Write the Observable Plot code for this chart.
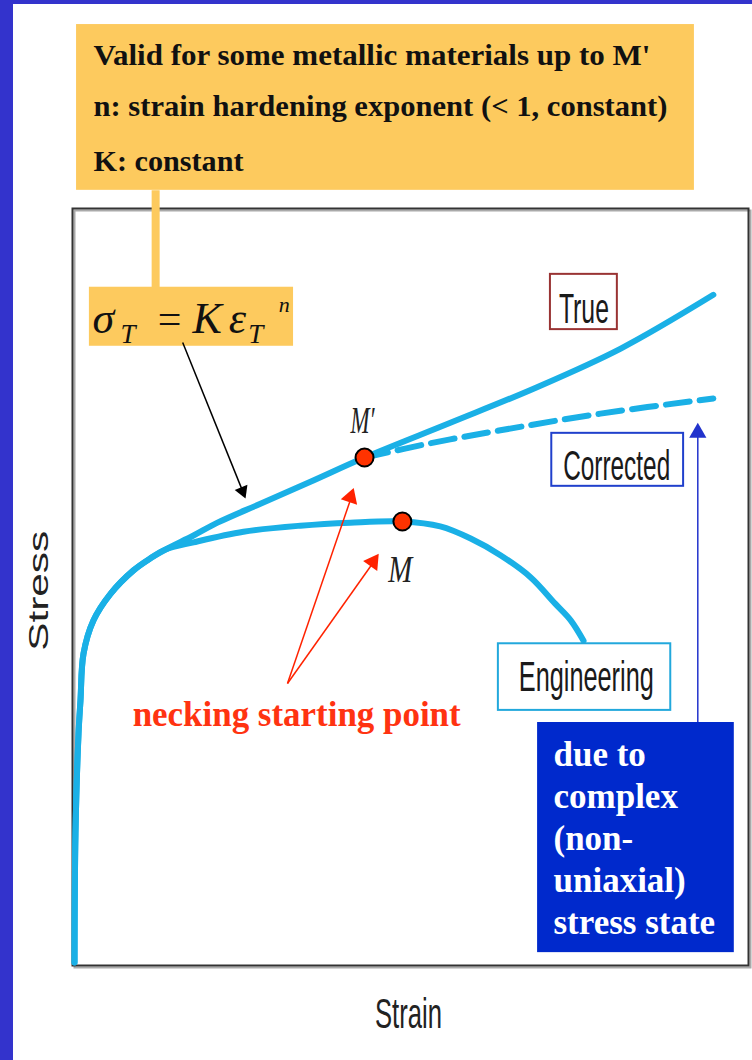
<!DOCTYPE html>
<html><head><meta charset="utf-8">
<script src="https://cdn.jsdelivr.net/npm/d3@7"></script>
<script src="https://cdn.jsdelivr.net/npm/@observablehq/plot@0.6"></script>
<style>
html,body{margin:0;padding:0;background:#fff;overflow:hidden;}
#wrap{position:relative;width:752px;height:1060px;}
#wrap svg{position:absolute;left:0;top:0;}
.strip{position:absolute;background:#3333cc;z-index:5;}
</style></head><body>
<div id="wrap">
  <div class="strip" style="left:0;top:0;width:13px;height:1060px"></div>
  <div class="strip" style="left:0;top:0;width:752px;height:4px"></div>
</div>
<script>
// ---- Data (strain and stress in arbitrary units, 0-100) ----
// elastic + early plastic part shared by all curves
const commonStrain = [0.3, 0.44, 0.89, 1.18, 1.63, 3.11, 5.62, 9.02, 11.54, 13.76];
const commonStress = [0.4, 17.4, 30.6, 35.0, 41.2, 45.6, 49.1, 52.2, 53.8, 54.95];
// true stress-strain branch
const trueStrain = [17.9, 21.45, 27.8, 35.2, 43.2, 55.9, 68.2, 81.1, 94.8];
const trueStress = [56.8, 58.5, 61.0, 63.9, 67.1, 71.7, 76.2, 81.5, 88.6];
// engineering branch
const engStrain = [17.9, 25.3, 33.7, 41.1, 48.8, 54.4, 58.9, 63.3, 67.75, 71.4, 73.7, 75.6];
const engStress = [55.9, 57.3, 58.1, 58.5, 58.65, 58.0, 56.4, 54.2, 51.3, 47.8, 45.6, 42.9];
// corrected branch (after necking)
const corrStrain = [43.2, 53.0, 63.3, 78.1, 94.8];
const corrStress = [67.1, 69.0, 70.7, 72.9, 74.9];
// necking points
const neckNames = ["M′", "M"];
const neckStrain = [43.2, 48.8];
const neckStress = [67.1, 58.65];
// texts
const noteLines = ["Valid for some metallic materials up to M'", "n: strain hardening exponent (< 1, constant)", "K: constant"];
const seriesNames = ["True", "Corrected", "Engineering"];
const causeText = "due to\ncomplex\n(non-\nuniaxial)\nstress state";
const neckText = "necking starting point";

// ---- build tables ----
const pts = (xs, ys) => xs.map((x, i) => ({x, y: ys[i]}));
const common = pts(commonStrain, commonStress);
const trueCurve = common.concat(pts(trueStrain, trueStress));
const engCurve = common.concat(pts(engStrain, engStress));
const corrCurve = pts(corrStrain, corrStress);
const necks = neckNames.map((n, i) => ({n, x: neckStrain[i], y: neckStress[i]}));

const BLUE = "#1ab0e6", ORANGE = "#fdca5e", RED = "#ff3300";
const serif = "'Liberation Serif','Times New Roman',serif";
const sans = "'Liberation Sans',Arial,sans-serif";

const T = (text, x, y, o) => Plot.text([{text, x, y}], {x: "x", y: "y", text: "text", ...o});
const box = (x1, x2, y1, y2, o) => Plot.rect([{x1, x2, y1, y2}], {x1: "x1", x2: "x2", y1: "y1", y2: "y2", ...o});
const seg = (x1, y1, x2, y2, o) => Plot.link([{x1, y1, x2, y2}], {x1: "x1", y1: "y1", x2: "x2", y2: "y2", ...o});
const head = (x, y, o) => Plot.dot([{x, y}], {x: "x", y: "y", symbol: "triangle", stroke: null, ...o});

const chart = Plot.plot({
  width: 752, height: 1060,
  marginLeft: 72, marginRight: 4, marginTop: 208, marginBottom: 95,
  x: {domain: [0, 100], axis: null},
  y: {domain: [0, 100], axis: null},
  style: {background: "transparent", overflow: "visible"},
  marks: [
    Plot.frame({stroke: "#aaa", strokeWidth: 2, dx: 2, dy: 2}),
    Plot.frame({stroke: "#333", strokeWidth: 2}),
    // note box
    box(0.6, 92.0, 102.4, 124.3, {fill: ORANGE}),
    seg(12.3, 89.6, 12.3, 102.4, {stroke: ORANGE, strokeWidth: 8}),
    box(2.5, 32.7, 81.8, 89.6, {fill: ORANGE}),
    T(noteLines[0], 3.1, 119.0, {textAnchor: "start", lineAnchor: "bottom", fontFamily: serif, fontWeight: "bold", fontSize: 30, fill: "#111"}),
    T(noteLines[1], 3.1, 112.2, {textAnchor: "start", lineAnchor: "bottom", fontFamily: serif, fontWeight: "bold", fontSize: 30, fill: "#111"}),
    T(noteLines[2], 3.1, 104.9, {textAnchor: "start", lineAnchor: "bottom", fontFamily: serif, fontWeight: "bold", fontSize: 30, fill: "#111"}),
    // formula sigma_T = K eps_T ^ n
    T("σ", 2.96, 83.5, {textAnchor: "start", lineAnchor: "bottom", fontFamily: serif, fontStyle: "italic", fontSize: 44, fill: "#111"}),
    T("T", 7.1, 82.2, {textAnchor: "start", lineAnchor: "bottom", fontFamily: serif, fontStyle: "italic", fontSize: 27, fill: "#111"}),
    T("=", 12.6, 83.5, {textAnchor: "start", lineAnchor: "bottom", fontFamily: serif, fontSize: 42, fill: "#111"}),
    T("K", 17.75, 83.5, {textAnchor: "start", lineAnchor: "bottom", fontFamily: serif, fontStyle: "italic", fontSize: 44, fill: "#111"}),
    T("ε", 23.1, 83.5, {textAnchor: "start", lineAnchor: "bottom", fontFamily: serif, fontStyle: "italic", fontSize: 44, fill: "#111"}),
    T("T", 26.0, 82.2, {textAnchor: "start", lineAnchor: "bottom", fontFamily: serif, fontStyle: "italic", fontSize: 27, fill: "#111"}),
    T("n", 30.5, 86.3, {textAnchor: "start", lineAnchor: "bottom", fontFamily: serif, fontStyle: "italic", fontSize: 22, fill: "#111"}),
    // curves
    Plot.line(trueCurve, {x: "x", y: "y", stroke: BLUE, strokeWidth: 6, curve: "catmull-rom"}),
    Plot.line(engCurve, {x: "x", y: "y", stroke: BLUE, strokeWidth: 6, curve: "catmull-rom"}),
    Plot.line(corrCurve, {x: "x", y: "y", stroke: BLUE, strokeWidth: 6, strokeDasharray: "24,10", curve: "catmull-rom"}),
    // black arrow from formula
    seg(16.3, 82.3, 25.2, 62.6, {stroke: "#000", strokeWidth: 1.5}),
    head(25.6, 61.7, {fill: "#000", r: 5.1, rotate: 158, dx: -3, dy: -7.4}),
    // necking points
    Plot.dot(necks, {x: "x", y: "y", r: 9, fill: RED, stroke: "#000", strokeWidth: 2}),
    T(neckNames[0], 42.9, 70.4, {lineAnchor: "bottom", fontFamily: serif, fontStyle: "italic", fontSize: 38, fill: "#222"}),
    T(neckNames[1], 48.5, 50.6, {lineAnchor: "bottom", fontFamily: serif, fontStyle: "italic", fontSize: 38, fill: "#222"}),
    // series labels
    box(70.7, 80.6, 84.0, 91.3, {fill: "white", stroke: "#993333", strokeWidth: 2}),
    T(seriesNames[0], 75.65, 84.9, {lineAnchor: "bottom", fontFamily: sans, fontSize: 42, fill: "#1a1a1a"}),
    box(70.9, 90.4, 63.3, 70.3, {fill: "white", stroke: "#2040cc", strokeWidth: 2}),
    T(seriesNames[1], 80.5, 64.1, {lineAnchor: "bottom", fontFamily: sans, fontSize: 42, fill: "#1a1a1a"}),
    box(63.0, 88.5, 33.7, 42.5, {fill: "white", stroke: "#22a8dc", strokeWidth: 2}),
    T(seriesNames[2], 76.0, 36.3, {lineAnchor: "bottom", fontFamily: sans, fontSize: 42, fill: "#1a1a1a"}),
    // blue arrow + cause box
    seg(92.5, 32.1, 92.5, 70.5, {stroke: "#2233cc", strokeWidth: 1.5}),
    head(92.5, 71.7, {fill: "#2233cc", r: 6.4, dy: 10}),
    box(68.8, 97.9, 1.7, 32.1, {fill: "#0029cc"}),
    T(causeText, 71.15, 4.2, {textAnchor: "start", lineAnchor: "bottom", lineHeight: 1.2, fontFamily: serif, fontWeight: "bold", fontSize: 35, fill: "#fff"}),
    // red arrows + necking text
    seg(31.8, 37.25, 41.3, 62.0, {stroke: "#ff2200", strokeWidth: 1.5}),
    head(41.6, 63.1, {fill: "#ff2200", r: 6.4, rotate: 18.6, dx: -3.2, dy: 9.5}),
    seg(31.8, 37.25, 44.7, 53.5, {stroke: "#ff2200", strokeWidth: 1.5}),
    head(45.3, 54.4, {fill: "#ff2200", r: 6.4, rotate: 35, dx: -5.7, dy: 8.2}),
    T(neckText, 8.9, 31.7, {textAnchor: "start", lineAnchor: "bottom", fontFamily: serif, fontWeight: "bold", fontSize: 35, fill: "#ff3311"}),
    // axis labels
    T("Stress", -5.0, 49.5, {rotate: -90, fontFamily: sans, fontSize: 28, fill: "#222"}),
    T("Strain", 49.7, -8.3, {lineAnchor: "bottom", fontFamily: sans, fontSize: 42, fill: "#222"})
  ]
});

const fit = {"True": 50, "Corrected": 107, "Engineering": 135, "Strain": 67, "Stress": 120,
  "M′": 24, "M": 24, "necking starting point": 328,
  [noteLines[0]]: 557, [noteLines[1]]: 574, [noteLines[2]]: 150};
d3.select(chart).selectAll("text").each(function() {
  if (this.querySelector("tspan")) return;
  const w = fit[this.textContent];
  if (w) { this.setAttribute("textLength", w); this.setAttribute("lengthAdjust", "spacingAndGlyphs"); }
});
document.getElementById("wrap").appendChild(chart);
</script>
</body></html>
